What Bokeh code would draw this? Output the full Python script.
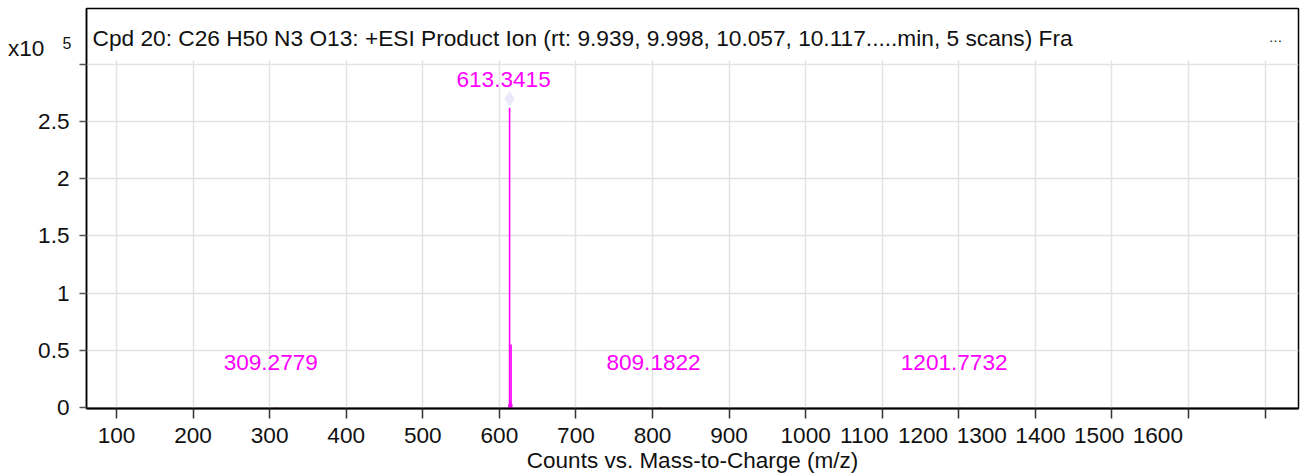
from bokeh.plotting import figure
from bokeh.models import (Range1d, FixedTicker, Label, ColumnDataSource, LinearAxis, Title)
from bokeh.core.properties import value
from bokeh.embed import file_html
from bokeh.resources import INLINE

# ---------------- data ----------------
title_text = ("Cpd 20: C26 H50 N3 O13: +ESI Product Ion (rt: 9.939, 9.998, 10.057, "
              "10.117.....min, 5 scans) Fra")
title_more = "\u2026"
x_title = "Counts vs. Mass-to-Charge (m/z)"
y_multiplier = "x10"
y_exponent = "5"

# spectrum sticks: m/z and counts (in units of 10^5)
peak_mz = [309.2779, 612.60, 613.3415, 614.10, 614.80, 615.30, 616.10, 809.1822, 1201.7732]
peak_counts = [0.004, 0.03, 2.62, 0.05, 0.04, 0.55, 0.03, 0.004, 0.004]

# annotated peaks
label_mz = [309.2779, 613.3415, 809.1822, 1201.7732]
label_counts = [0.004, 2.62, 0.004, 0.004]
label_text = ["309.2779", "613.3415", "809.1822", "1201.7732"]

# precursor marker
precursor_mz = [613.3415]
precursor_counts = [2.62]

x_ticks = [100, 200, 300, 400, 500, 600, 700, 800, 900, 1000, 1100, 1200, 1300, 1400, 1500, 1600]
x_tick_labels = ["100", "200", "300", "400", "500", "600", "700", "800", "900", "1000",
                 "1100", "1200", "1300", "1400", "1500", "1600"]
y_ticks = [0, 0.5, 1, 1.5, 2, 2.5, 3]
y_tick_labels = ["0", "0.5", "1", "1.5", "2", "2.5", ""]

# ---------------- layout constants (pixels) ----------------
W, H = 1301, 475
FL, FT, FR, FB = 86, 8, 1298, 408          # frame edges
PX_PER_MZ = 0.76573
X100_PX = 116                               # x pixel of m/z 100
PX_PER_Y = 114.4
Y0_PX = 407                                 # y pixel of 0 counts
MULT_PX = 48                                # y pixel of the x10 multiplier
EXP_PX = 42.5                               # y pixel of the exponent
GRID_TOP = 3.035
LABEL_FLOOR = 0.15
LABEL_STEP_PX = 58.7                        # packed spacing of 4-digit tick labels
BASE_FIX = 8                                # baseline correction for text placement

x_start = 100 - (X100_PX - FL) / PX_PER_MZ
x_end = x_start + (FR - FL) / PX_PER_MZ
y_start = -(FB - Y0_PX) / PX_PER_Y
y_end = y_start + (FB - FT) / PX_PER_Y
FH = FB - FT
mult_y = round((Y0_PX - MULT_PX) / PX_PER_Y, 3)
exp_y = round((Y0_PX - EXP_PX) / PX_PER_Y, 3)

FONT = "Liberation Sans"
MAGENTA = "#ff00ff"
INK = "#111111"


def bare_axis(ticks, labels, size, standoff):
    ax = LinearAxis(ticker=FixedTicker(ticks=ticks),
                    major_label_overrides={t: s for t, s in zip(ticks, labels)})
    ax.axis_line_color = None
    ax.major_tick_out = 0
    ax.major_tick_in = 0
    ax.minor_tick_out = 0
    ax.minor_tick_in = 0
    ax.major_label_standoff = standoff
    ax.major_label_text_font = FONT
    ax.major_label_text_font_size = size
    ax.major_label_text_color = INK
    return ax


p = figure(width=W, height=H, x_range=Range1d(x_start, x_end), y_range=Range1d(y_start, y_end),
           output_backend="svg", toolbar_location=None,
           min_border_left=FL, min_border_right=W - FR, min_border_top=FT, min_border_bottom=H - FB)
p.background_fill_color = "white"
p.border_fill_color = "white"
p.outline_line_color = "black"
p.outline_line_width = 1.5
p.outline_line_alpha = 1.0

# ---- x axis: tick marks (closest) ----
xa = p.xaxis[0]
xa.ticker = FixedTicker(ticks=x_ticks)
xa.major_label_overrides = {t: "" for t in x_ticks}
xa.major_label_text_font_size = "0px"
xa.major_label_standoff = 0
xa.major_tick_out = 10
xa.major_tick_in = 0
xa.minor_tick_out = 0
xa.minor_tick_in = 0
xa.axis_line_color = "black"
xa.axis_line_width = 2.2
xa.major_tick_line_color = "#333333"
xa.major_tick_line_width = 1.5

# ---- x axis: packed tick labels ----
lab_x = []
for t in x_ticks:
    if t <= 1000:
        lab_x.append(float(t))
    else:
        lab_x.append(round(1000 + (t - 1000) / 100 * LABEL_STEP_PX / PX_PER_MZ, 2))
p.add_layout(bare_axis(lab_x, x_tick_labels, "22.6px", 9), "below")

# axis title
p.add_layout(Title(text=x_title, align="center", offset=-30, standoff=0,
                   text_font=FONT, text_font_size="22.5px", text_font_style="normal",
                   text_color=INK), "below")

# ---- y axis: tick marks (closest) ----
ya = p.yaxis[0]
ya.ticker = FixedTicker(ticks=y_ticks)
ya.major_label_overrides = {t: "" for t in y_ticks}
ya.major_label_text_font_size = "0px"
ya.major_label_standoff = 0
ya.major_tick_out = 7
ya.major_tick_in = 0
ya.minor_tick_out = 0
ya.minor_tick_in = 0
ya.axis_line_color = "black"
ya.axis_line_width = 1.5
ya.major_tick_line_color = "#555555"
ya.major_tick_line_width = 1.5

# ---- y axis: exponent of the multiplier (small font) ----
p.add_layout(bare_axis([exp_y], [y_exponent], "16px", 8), "left")

# ---- y axis: tick labels + multiplier, pulled back next to the tick marks ----
yb_ticks = y_ticks[:-1] + [mult_y]
yb_labels = y_tick_labels[:-1] + [y_multiplier + "\u00a0" * 4]
p.add_layout(bare_axis(yb_ticks, yb_labels, "22.6px", -10), "left")

# grids
p.xgrid.ticker = FixedTicker(ticks=x_ticks)
p.ygrid.ticker = FixedTicker(ticks=y_ticks[1:])
p.grid.grid_line_color = "#e2e2e2"
p.grid.grid_line_width = 1.5
try:
    p.xgrid.cross_bounds = (y_start, GRID_TOP)
except Exception:
    pass

# spectrum sticks
src = ColumnDataSource(dict(mz=peak_mz, counts=peak_counts))
p.segment(x0="mz", y0=0, x1="mz", y1="counts", source=src, line_color=MAGENTA, line_width=1.6)

# precursor diamond, a few px above its peak
p.scatter(x=precursor_mz, y=[c + 9 / PX_PER_Y for c in precursor_counts], marker="diamond",
          size=14, fill_color="#e9e9fb", line_color="#e9e9fb")

# peak labels
p.text(x=label_mz, y=[max(c, LABEL_FLOOR) for c in label_counts], text=label_text,
       x_offset=-6, y_offset=-20 - BASE_FIX, text_align="center", text_baseline="alphabetic",
       text_color=MAGENTA, text_font=value(FONT), text_font_size=value("22.6px"))

# chart title inside the frame
p.add_layout(Label(x=6, y=FH - 37 + BASE_FIX, x_units="screen", y_units="screen",
                   text=title_text, text_align="left", text_baseline="alphabetic",
                   text_font=FONT, text_font_size="22.7px", text_color=INK))
p.add_layout(Label(x=FR - FL - 16, y=FH - 36 + BASE_FIX, x_units="screen", y_units="screen",
                   text=title_more, text_align="right", text_baseline="alphabetic",
                   text_font=FONT, text_font_size="14px", text_color=INK))

open("out.html", "w").write(file_html(p, INLINE))
